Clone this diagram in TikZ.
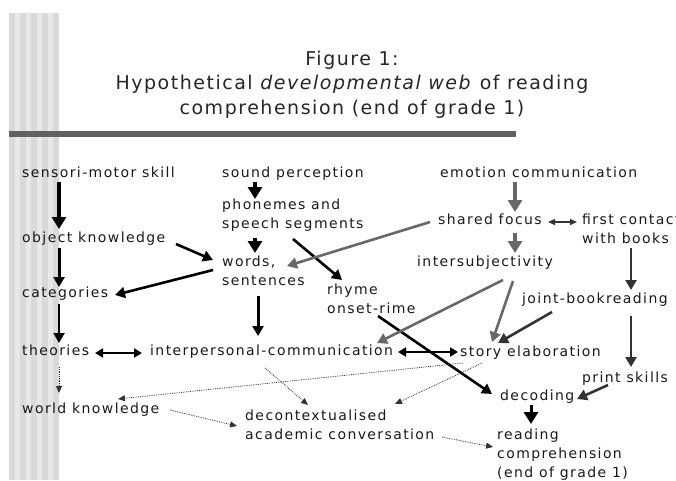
\documentclass[tikz,border=0pt]{standalone}
\usepackage{fontspec}
\setmainfont{DejaVu Sans}[LetterSpace=10]
\newfontfamily\ttlfont{DejaVu Sans}[LetterSpace=8]
\usepackage{xcolor}
\usetikzlibrary{arrows.meta}
\definecolor{webgray}{HTML}{686868}
\definecolor{webdark}{HTML}{333333}
\definecolor{barcol}{HTML}{606060}
\definecolor{stripeA}{HTML}{D9D9D9}
\definecolor{stripeB}{HTML}{E8E8E8}
\tikzset{
  lbl/.style={inner sep=0pt, anchor=base west, align=left, text=black!90, font=\fontsize{14}{19}\selectfont},
  ttl/.style={inner sep=0pt, anchor=base, align=center, text=black!85, font=\ttlfont\fontsize{19}{24.5}\selectfont},
  thk/.style={-{Triangle[width=14pt,length=12pt]}, line width=4pt},
  arr/.style={-{Triangle[width=11pt,length=10pt]}, line width=2.6pt},
  dbl/.style={{Triangle[width=9pt,length=8pt]}-{Triangle[width=9pt,length=8pt]}, line width=2.4pt},
  garr/.style={arr, webgray},
  darr/.style={arr, webdark},
  dots/.style={-{Triangle[width=6pt,length=7pt]}, densely dotted, line width=0.8pt, webdark},
}

\begin{document}
\begin{tikzpicture}[x=1pt,y=-1pt]
  \useasboundingbox (0,0) rectangle (676,480);
  % striped margin and title bar
  \foreach \i in {0,...,8} {
    \pgfmathsetmacro{\xa}{9+\i*50/9}
    \ifodd\i \def\sc{stripeB}\else\def\sc{stripeA}\fi
    \fill[\sc] (\xa,13) rectangle ({\xa+50/9},480);
  }
  \fill[barcol] (9,131) rectangle (516,137);
  \node[ttl] (ttl) at (352,114) {Figure 1:\\Hypothetical \textit{developmental web} of reading\\comprehension (end of grade 1)};

  \node[lbl] (sms) at (22,177) {sensori-motor skill};
  \node[lbl] (snd) at (222,177) {sound perception};
  \node[lbl] (emo) at (440,177) {emotion communication};
  \node[lbl] (pho) at (222,228) {phonemes and\\speech segments};
  \node[lbl] (obj) at (22,242) {object knowledge};
  \node[lbl] (shf) at (438,224) {shared focus};
  \node[lbl] (fcb) at (582,243) {first contact\\with books};
  \node[lbl] (wrd) at (222,285) {words,\\sentences};
  \node[lbl] (ins) at (417,266) {intersubjectivity};
  \node[lbl] (cat) at (22,297) {categories};
  \node[lbl] (rhy) at (327,313) {rhyme\\onset-rime};
  \node[lbl] (jbr) at (522,303) {joint-bookreading};
  \node[lbl] (the) at (22,355) {theories};
  \node[lbl] (ipc) at (150,355) {interpersonal-communication};
  \node[lbl] (ste) at (460,356) {story elaboration};
  \node[lbl] (prs) at (582,382) {print skills};
  \node[lbl] (dec) at (500,400) {decoding};
  \node[lbl] (wkn) at (22,413) {world knowledge};
  \node[lbl] (dca) at (245,439) {decontextualised\\academic conversation};
  \node[lbl] (rcp) at (497,477) {reading\\comprehension\\(end of grade 1)};

  % cognitive strand
  \draw[thk] ([shift={(37,5)}]sms.base west) -- ([shift={(37,-13)}]obj.base west);
  \draw[arr, line width=3pt] ([shift={(37,6)}]obj.base west) -- ([shift={(37,-10)}]cat.base west);
  \draw[arr, line width=2pt] ([shift={(37,7)}]cat.base west) -- ([shift={(37,-12)}]the.base west);
  \draw[thk] ([shift={(33,5)}]snd.base west) -- ([shift={(33,-29)}]pho.base west);
  \draw[thk] ([shift={(33,10)}]pho.base west) -- ([shift={(33,-32)}]wrd.base west);
  \draw[arr] ([shift={(154,2)}]obj.base west) -- ([shift={(-9,-25)}]wrd.base west);
  \draw[arr] ([shift={(-9,-15)}]wrd.base west) -- ([shift={(93,-2)}]cat.base west);
  \draw[arr] ([shift={(71,11)}]pho.base west) -- ([shift={(15,-33)}]rhy.base west);
  \draw[arr, line width=3pt] ([shift={(36,11)}]wrd.base west) -- ([shift={(108,-19)}]ipc.base west);
  \draw[dbl] ([shift={(73,-2)}]the.base west) -- ([shift={(-8,-2)}]ipc.base west);
  \draw[dbl] ([shift={(248,-3)}]ipc.base west) -- ([shift={(-2,-4)}]ste.base west);
  \draw[arr] ([shift={(51,3)}]rhy.base west) -- ([shift={(-8,-6)}]dec.base west);
  \draw[thk, line width=3pt] ([shift={(31,5)}]dec.base west) -- ([shift={(34,-53)}]rcp.base west);

  % social strand
  \draw[garr, thk] ([shift={(75,5)}]emo.base west) -- ([shift={(77,-12)}]shf.base west);
  \draw[garr, thk] ([shift={(77,9)}]shf.base west) -- ([shift={(98,-13)}]ins.base west);
  \draw[garr] ([shift={(-8,-2)}]shf.base west) -- ([shift={(65,-19)}]wrd.base west);
  \draw[{Triangle[width=6pt,length=7pt]}-{Triangle[width=6pt,length=7pt]}, line width=1.3pt, webdark] ([shift={(110,-2)}]shf.base west) -- ([shift={(-5,-21)}]fcb.base west);
  \draw[garr] ([shift={(86,14)}]ins.base west) -- ([shift={(227,-12)}]ipc.base west);
  \draw[garr] ([shift={(96,15)}]ins.base west) -- ([shift={(32,-14)}]ste.base west);

  % book strand
  \draw[darr] ([shift={(49,5)}]fcb.base west) -- ([shift={(109,-13)}]jbr.base west);
  \draw[darr] ([shift={(30,9)}]jbr.base west) -- ([shift={(38,-13)}]ste.base west);
  \draw[darr] ([shift={(109,13)}]jbr.base west) -- ([shift={(49,-15)}]prs.base west);
  \draw[darr] ([shift={(26,3)}]prs.base west) -- ([shift={(77,-1)}]dec.base west);

  % weak links
  \draw[dots] ([shift={(37,12)}]the.base west) -- ([shift={(37,-20)}]wkn.base west);
  \draw[dots] ([shift={(3,7)}]ste.base west) -- ([shift={(96,-14)}]wkn.base west);
  \draw[dots] ([shift={(115,13)}]ipc.base west) -- ([shift={(63,-34)}]dca.base west);
  \draw[dots] ([shift={(22,7)}]ste.base west) -- ([shift={(150,-35)}]dca.base west);
  \draw[dots] ([shift={(148,-3)}]wkn.base west) -- ([shift={(-8,-13)}]dca.base west);
  \draw[dots] ([shift={(197,-2)}]dca.base west) -- ([shift={(-4,-30)}]rcp.base west);
\end{tikzpicture}
\end{document}
